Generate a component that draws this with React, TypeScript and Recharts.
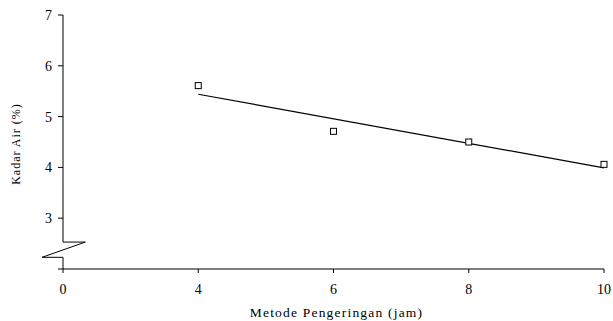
import { ScatterChart, Scatter, XAxis, YAxis, ReferenceLine } from "recharts"

// drying time (jam) vs water content (%)
const hours = [4, 6, 8, 10]
const kadarAir = [5.61, 4.71, 4.5, 4.06]

// linear trend line end points
const trendHours = [4, 10]
const trendValues = [5.44, 3.99]

const xTicks = [2, 4, 6, 8, 10]
const xTickLabels = ["0", "4", "6", "8", "10"]
const yTicks = [2, 3, 4, 5, 6, 7]

// broken y axis: x offsets / y levels of the zigzag
const breakTop = 2.53
const breakBottom = 2.23
const breakRight = 2.33
const breakLeft = 1.69

const points = hours.map((h, i) => ({ x: h, y: kadarAir[i] }))
const trend = trendHours.map((h, i) => ({ x: h, y: trendValues[i] }))

const font = "'Liberation Serif', 'Times New Roman', serif"

const SquareMarker = (props: any) => {
  const { cx, cy } = props
  if (cx == null || cy == null) return null
  return <rect x={cx - 3} y={cy - 3} width={6} height={6} fill="#fff" stroke="#000" strokeWidth={1} />
}

const axisSegments: [number, number, number, number][] = [
  [2, 7, 2, breakTop],
  [2, breakTop, breakRight, breakTop],
  [breakRight, breakTop, breakLeft, breakBottom],
  [breakLeft, breakBottom, 2, breakBottom],
  [2, breakBottom, 2, 2],
]

export default function App() {
  return (
    <div style={{ position: "absolute", left: 0, top: 0, width: 613, height: 321, background: "#fff" }}>
      <ScatterChart width={613} height={321} margin={{ top: 15, right: 9, bottom: 0, left: 0 }}>
        <XAxis
          type="number"
          dataKey="x"
          domain={[2, 10]}
          ticks={xTicks}
          tickFormatter={(v: number) => xTickLabels[xTicks.indexOf(v)] ?? ""}
          height={52}
          stroke="#000"
          tickSize={4}
          tickMargin={11}
          tick={{ fill: "#000", fontSize: 14, fontFamily: font }}
          label={{
            value: "Metode Pengeringan (jam)",
            position: "insideBottom",
            offset: 4,
            dx: 3,
            style: { fill: "#000", fontSize: 13.5, letterSpacing: 1.2, fontFamily: font },
          }}
        />
        <YAxis
          type="number"
          dataKey="y"
          domain={[2, 7]}
          ticks={yTicks}
          tickFormatter={(v: number) => (v === 2 ? "" : String(v))}
          width={63}
          axisLine={false}
          tickLine={{ stroke: "#000" }}
          tickSize={5}
          tickMargin={6}
          tick={{ fill: "#000", fontSize: 14, fontFamily: font }}
          label={{
            value: "Kadar Air (%)",
            angle: -90,
            position: "insideLeft",
            offset: 16,
            dy: 2,
            style: { textAnchor: "middle", fill: "#000", fontSize: 12, letterSpacing: 1, fontFamily: font },
          }}
        />
        {axisSegments.map((s, i) => (
          <ReferenceLine
            key={i}
            segment={[
              { x: s[0], y: s[1] },
              { x: s[2], y: s[3] },
            ]}
            stroke="#000"
            strokeWidth={1}
            ifOverflow="visible"
          />
        ))}
        <Scatter
          data={trend}
          line={{ stroke: "#000", strokeWidth: 1.2 }}
          shape={() => null}
          isAnimationActive={false}
        />
        <Scatter data={points} shape={<SquareMarker />} isAnimationActive={false} />
      </ScatterChart>
    </div>
  )
}
